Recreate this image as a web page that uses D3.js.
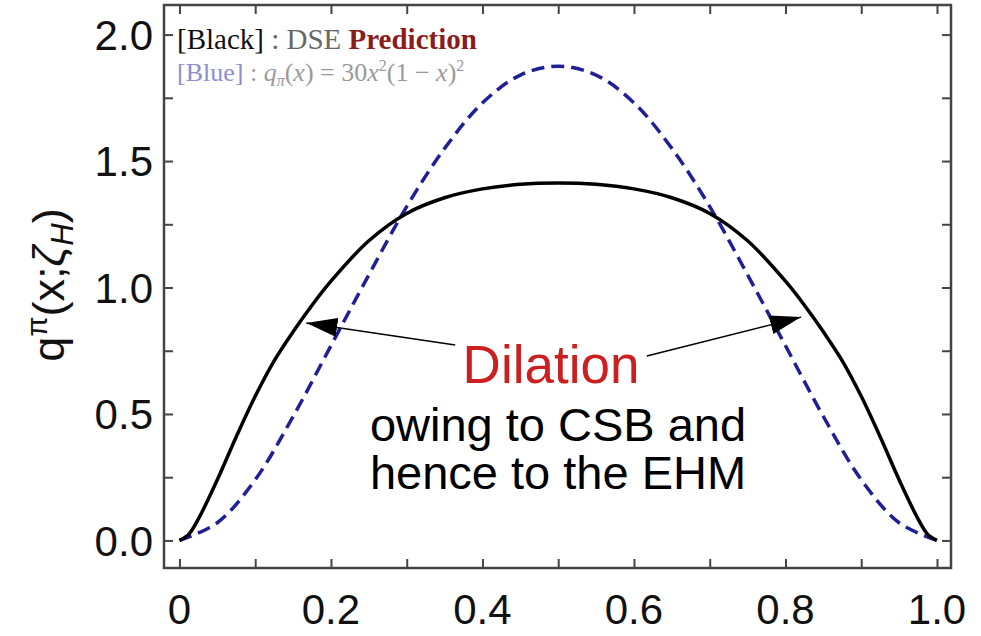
<!DOCTYPE html>
<html>
<head>
<meta charset="utf-8">
<script src="https://cdn.jsdelivr.net/npm/d3@7"></script>
<style>
  body { margin: 0; background: #fff; }
  svg { display: block; }
</style>
</head>
<body>
<div id="chart"></div>
<script>
// values
var dseX = [0, 0.0125, 0.025, 0.05, 0.075, 0.1, 0.125, 0.15, 0.175, 0.2, 0.25, 0.3, 0.35, 0.4, 0.45, 0.5,
            0.55, 0.6, 0.65, 0.7, 0.75, 0.8, 0.825, 0.85, 0.875, 0.9, 0.925, 0.95, 0.975, 0.9875, 1];
var dseQ = [0, 0.025, 0.085, 0.24, 0.41, 0.57, 0.71, 0.825, 0.93, 1.025, 1.185, 1.293, 1.355, 1.39, 1.408, 1.413,
            1.408, 1.39, 1.355, 1.293, 1.185, 1.025, 0.93, 0.825, 0.71, 0.57, 0.41, 0.24, 0.085, 0.025, 0];

var blueX = [0, 0.05, 0.1, 0.15, 0.2, 0.25, 0.3, 0.35, 0.4, 0.45, 0.5,
             0.55, 0.6, 0.65, 0.7, 0.75, 0.8, 0.85, 0.9, 0.95, 1];
var blueQ = [0, 0.07, 0.24, 0.49, 0.77, 1.05, 1.32, 1.55, 1.73, 1.84, 1.875,
             1.84, 1.73, 1.55, 1.32, 1.05, 0.77, 0.49, 0.24, 0.07, 0];

var xTickLabels = [0, 0.2, 0.4, 0.6, 0.8, 1.0];
var yTickLabels = [0, 0.5, 1.0, 1.5, 2.0];

var W = 981, H = 636;
var frame = { left: 164, right: 951, top: 5, bottom: 568 };

var x = d3.scaleLinear().domain([-0.0204, 1.0185]).range([frame.left, frame.right]);
var y = d3.scaleLinear().domain([-0.109, 2.117]).range([frame.bottom, frame.top]);

var svg = d3.select("#chart").append("svg")
    .attr("width", W)
    .attr("height", H);

var axisColor = "#444";

// inward ticks on all four sides
var xMinor = d3.range(0, 11).map(function (i) { return i / 10; });
var yMinor = d3.range(0, 9).map(function (i) { return i / 4; });

var axB = d3.axisTop(x).tickValues(xMinor).tickSize(9).tickFormat("");
var axT = d3.axisBottom(x).tickValues(xMinor).tickSize(9).tickFormat("");
var axL = d3.axisRight(y).tickValues(yMinor).tickSize(9).tickFormat("");
var axR = d3.axisLeft(y).tickValues(yMinor).tickSize(9).tickFormat("");

function styleAxis(g) {
  g.select(".domain").remove();
  g.selectAll("line").attr("stroke", axisColor).attr("stroke-width", 2);
}
svg.append("g").attr("transform", "translate(0," + frame.bottom + ")").call(axB).call(styleAxis);
svg.append("g").attr("transform", "translate(0," + frame.top + ")").call(axT).call(styleAxis);
svg.append("g").attr("transform", "translate(" + frame.left + ",0)").call(axL).call(styleAxis);
svg.append("g").attr("transform", "translate(" + frame.right + ",0)").call(axR).call(styleAxis);

svg.append("rect")
    .attr("x", frame.left).attr("y", frame.top)
    .attr("width", frame.right - frame.left)
    .attr("height", frame.bottom - frame.top)
    .attr("fill", "none")
    .attr("stroke", axisColor)
    .attr("stroke-width", 2.5);

var sans = "Liberation Sans, Arial, sans-serif";

// tick labels
svg.append("g").selectAll("text")
    .data(xTickLabels)
    .enter().append("text")
    .attr("x", function (d) { return x(d); })
    .attr("y", 624)
    .attr("text-anchor", "middle")
    .style("font-family", sans)
    .style("font-size", "42px")
    .attr("fill", "#111")
    .text(function (d) { return d === 0 ? "0" : d3.format(".1f")(d); });

svg.append("g").selectAll("text")
    .data(yTickLabels)
    .enter().append("text")
    .attr("x", 153)
    .attr("y", function (d) { return y(d); })
    .attr("dy", "0.36em")
    .attr("text-anchor", "end")
    .style("font-family", sans)
    .style("font-size", "42px")
    .attr("fill", "#111")
    .text(function (d) { return d3.format(".1f")(d); });

// y axis title
var yt = svg.append("text")
    .attr("transform", "translate(64,285) rotate(-90)")
    .attr("text-anchor", "middle")
    .style("font-family", sans)
    .style("font-size", "45px")
    .attr("fill", "#111");
yt.append("tspan").text("q");
yt.append("tspan").attr("dy", -17).style("font-size", "29px").text("π");
yt.append("tspan").attr("dy", 17).text("(x;");
yt.append("tspan").style("font-style", "italic").text("ζ");
yt.append("tspan").attr("dy", 9).style("font-size", "31px").style("font-style", "italic").text("H");
yt.append("tspan").attr("dy", -9).text(")");

// curves
var line = d3.line()
    .x(function (d) { return x(d[0]); })
    .y(function (d) { return y(d[1]); })
    .curve(d3.curveCatmullRom.alpha(0.5));

svg.append("path")
    .datum(d3.zip(blueX, blueQ))
    .attr("d", line)
    .attr("fill", "none")
    .attr("stroke", "#1f1f96")
    .attr("stroke-width", 3.5)
    .attr("stroke-dasharray", "13,7");

svg.append("path")
    .datum(d3.zip(dseX, dseQ))
    .attr("d", line)
    .attr("fill", "none")
    .attr("stroke", "#000")
    .attr("stroke-width", 3.5);

// legend
var serif = "Liberation Serif, Times New Roman, serif";
var l1 = svg.append("text")
    .attr("x", 177).attr("y", 49)
    .style("font-family", serif)
    .style("font-size", "29px");
l1.append("tspan").attr("fill", "#111").text("[Black]");
l1.append("tspan").attr("fill", "#666").text(" : DSE ");
l1.append("tspan").attr("fill", "#8b1c1c").style("font-weight", "bold").text("Prediction");

var l2 = svg.append("text")
    .attr("x", 177).attr("y", 81)
    .style("font-family", serif)
    .style("font-size", "26px")
    .attr("fill", "#9a9a9a");
l2.append("tspan").attr("fill", "#8d8dd0").text("[Blue]");
l2.append("tspan").text(" : ");
l2.append("tspan").style("font-style", "italic").text("q");
l2.append("tspan").attr("dy", 5).style("font-size", "16px").style("font-style", "italic").text("π");
l2.append("tspan").attr("dy", -5).text("(");
l2.append("tspan").style("font-style", "italic").text("x");
l2.append("tspan").text(") = 30");
l2.append("tspan").style("font-style", "italic").text("x");
l2.append("tspan").attr("dy", -10).style("font-size", "16px").text("2");
l2.append("tspan").attr("dy", 10).text("(1 − ");
l2.append("tspan").style("font-style", "italic").text("x");
l2.append("tspan").text(")");
l2.append("tspan").attr("dy", -10).style("font-size", "16px").text("2");

// annotation arrows
svg.append("defs").append("marker")
    .attr("id", "head")
    .attr("viewBox", "0 0 31 19")
    .attr("refX", 31).attr("refY", 9.5)
    .attr("markerWidth", 31).attr("markerHeight", 19)
    .attr("markerUnits", "userSpaceOnUse")
    .attr("orient", "auto")
  .append("path")
    .attr("d", "M0,0 L31,9.5 L0,19 Z")
    .attr("fill", "#000");

var arrows = [
  { from: [0.364, 0.773], to: [0.1675, 0.86] },
  { from: [0.617, 0.729], to: [0.8206, 0.883] }
];
svg.append("g").selectAll("line")
    .data(arrows)
    .enter().append("line")
    .attr("x1", function (d) { return x(d.from[0]); })
    .attr("y1", function (d) { return y(d.from[1]); })
    .attr("x2", function (d) { return x(d.to[0]); })
    .attr("y2", function (d) { return y(d.to[1]); })
    .attr("stroke", "#000")
    .attr("stroke-width", 1.5)
    .attr("marker-end", "url(#head)");

svg.append("text")
    .attr("x", 551).attr("y", 383)
    .attr("text-anchor", "middle")
    .style("font-family", sans)
    .style("font-size", "53px")
    .attr("fill", "#cc2020")
    .text("Dilation");

svg.append("text")
    .attr("x", 558).attr("y", 441)
    .attr("text-anchor", "middle")
    .style("font-family", sans)
    .style("font-size", "47px")
    .attr("fill", "#000")
    .text("owing to CSB and");

svg.append("text")
    .attr("x", 558).attr("y", 489)
    .attr("text-anchor", "middle")
    .style("font-family", sans)
    .style("font-size", "47px")
    .attr("fill", "#000")
    .text("hence to the EHM");
</script>
</body>
</html>
